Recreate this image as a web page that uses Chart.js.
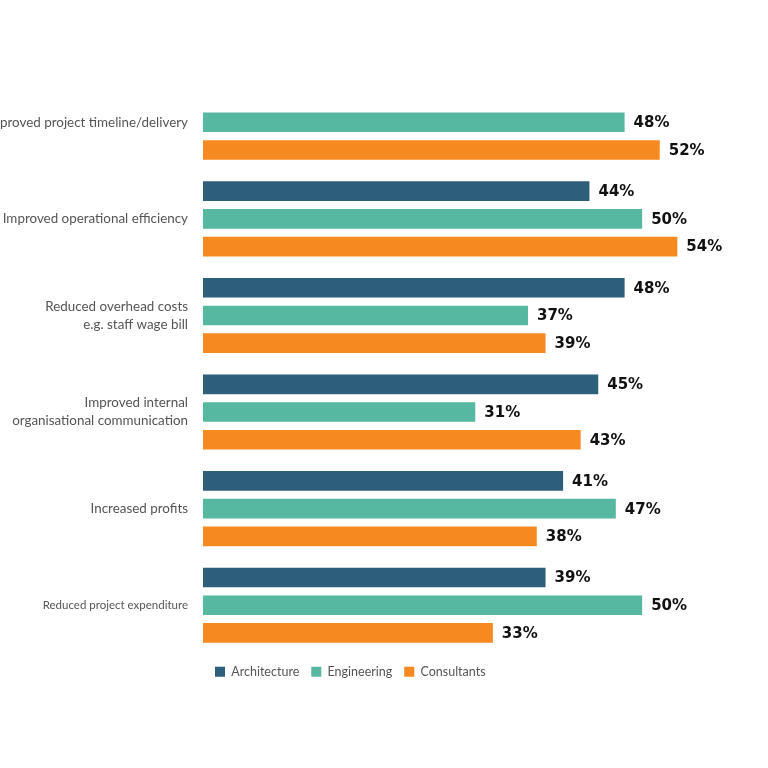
<!DOCTYPE html>
<html>
<head>
<meta charset="utf-8">
<script src="https://cdn.jsdelivr.net/npm/chart.js@4"></script>
<style>
  html, body { margin: 0; padding: 0; background: #fff; }
  #wrap { width: 768px; height: 768px; }
</style>
</head>
<body>
<div id="wrap"><canvas id="myChart" width="768" height="768"></canvas></div>
<script>
const categories = [
  "Improved project timeline/delivery",
  "Improved operational efficiency",
  ["Reduced overhead costs", "e.g. staff wage bill"],
  ["Improved internal", "organisational communication"],
  "Increased profits",
  "Reduced project expenditure"
];
// first Architecture bar is cut off in the source picture
const architecture = [null, 44, 48, 45, 41, 39];
const engineering = [48, 50, 37, 31, 47, 50];
const consultants = [52, 54, 39, 43, 38, 33];

const ctx = document.getElementById("myChart");

const valueLabels = {
  id: "valueLabels",
  afterDatasetsDraw(chart) {
    const c = chart.ctx;
    c.save();
    c.font = "bold 15px 'DejaVu Sans'";
    c.fillStyle = "#111";
    c.textBaseline = "middle";
    c.textAlign = "left";
    chart.data.datasets.forEach((ds, i) => {
      const meta = chart.getDatasetMeta(i);
      meta.data.forEach((bar, j) => {
        const v = ds.data[j];
        if (v === null) return;
        c.fillText(v + "%", bar.x + 9, bar.y + 1);
      });
    });
    c.restore();
  }
};

new Chart(ctx, {
  type: "bar",
  data: {
    labels: categories,
    datasets: [
      { label: "Architecture", data: architecture, backgroundColor: "#2e5f7a" },
      { label: "Engineering", data: engineering, backgroundColor: "#56b8a0" },
      { label: "Consultants", data: consultants, backgroundColor: "#f6891f" }
    ]
  },
  options: {
    indexAxis: "y",
    responsive: false,
    animation: false,
    categoryPercentage: 0.86,
    barPercentage: 0.71,
    layout: { padding: { top: 74, right: 38, bottom: 80, left: 0 } },
    scales: {
      x: { display: false, min: 0, max: 60 },
      y: {
        grid: { display: false, drawTicks: false },
        border: { display: false },
        afterFit(scale) { scale.width = 203; },
        ticks: {
          padding: 15,
          color: "#555",
          font: (c) => ({
            family: "Lato",
            size: c.index === 5 ? 11.5 : 13.4,
            lineHeight: 1.35
          })
        }
      }
    },
    plugins: {
      legend: {
        position: "bottom",
        align: "start",
        fullSize: false,
        labels: {
          boxWidth: 10,
          boxHeight: 10,
          padding: 12,
          color: "#555",
          font: { family: "Lato", size: 12.5 }
        }
      },
      tooltip: { enabled: false }
    }
  },
  plugins: [valueLabels]
});
</script>
</body>
</html>
